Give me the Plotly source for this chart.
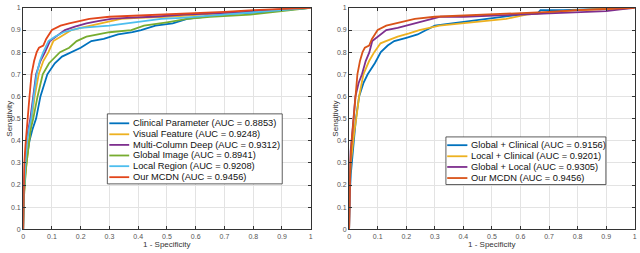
import plotly.graph_objects as go

# ---------------- data ----------------
tick_vals = [0, 0.1, 0.2, 0.3, 0.4, 0.5, 0.6, 0.7, 0.8, 0.9, 1]
tick_text = ["0", "0.1", "0.2", "0.3", "0.4", "0.5", "0.6", "0.7", "0.8", "0.9", "1"]

# Left panel
clin_x = [0, 0, 0.005, 0.012, 0.022, 0.032, 0.045, 0.06, 0.084, 0.11, 0.135, 0.168, 0.2, 0.237, 0.28, 0.33, 0.38, 0.41, 0.46, 0.52, 0.57, 0.63, 0.68, 0.75, 0.82, 0.9, 0.95, 1]
clin_y = [0, 0.1, 0.22, 0.32, 0.4, 0.45, 0.5, 0.6, 0.7, 0.75, 0.78, 0.8, 0.82, 0.85, 0.86, 0.88, 0.89, 0.9, 0.92, 0.93, 0.95, 0.96, 0.97, 0.975, 0.98, 0.99, 0.995, 1]

vis_x = [0, 0.002, 0.008, 0.015, 0.022, 0.03, 0.04, 0.054, 0.07, 0.088, 0.105, 0.13, 0.168, 0.2, 0.25, 0.3, 0.34, 0.4, 0.5, 0.62, 0.7, 0.8, 0.9, 1]
vis_y = [0, 0.15, 0.25, 0.35, 0.42, 0.5, 0.6, 0.7, 0.76, 0.8, 0.85, 0.87, 0.9, 0.91, 0.925, 0.94, 0.95, 0.955, 0.96, 0.97, 0.975, 0.985, 0.993, 1]

mcol_x = [0, 0.002, 0.006, 0.012, 0.018, 0.025, 0.035, 0.045, 0.06, 0.076, 0.093, 0.115, 0.145, 0.18, 0.22, 0.26, 0.306, 0.36, 0.45, 0.56, 0.65, 0.75, 0.85, 0.95, 1]
mcol_y = [0, 0.2, 0.3, 0.4, 0.45, 0.5, 0.6, 0.7, 0.76, 0.8, 0.85, 0.87, 0.9, 0.915, 0.93, 0.94, 0.95, 0.955, 0.96, 0.97, 0.975, 0.98, 0.99, 0.997, 1]

glob_x = [0, 0.003, 0.01, 0.018, 0.026, 0.035, 0.05, 0.068, 0.09, 0.128, 0.16, 0.186, 0.22, 0.26, 0.3, 0.376, 0.42, 0.5, 0.57, 0.65, 0.72, 0.79, 0.86, 0.93, 1]
glob_y = [0, 0.15, 0.28, 0.38, 0.45, 0.5, 0.6, 0.7, 0.75, 0.8, 0.82, 0.85, 0.87, 0.88, 0.89, 0.9, 0.92, 0.935, 0.95, 0.96, 0.965, 0.97, 0.98, 0.99, 1]

loc_x = [0, 0.002, 0.008, 0.014, 0.02, 0.028, 0.037, 0.047, 0.058, 0.07, 0.088, 0.11, 0.14, 0.175, 0.2, 0.3, 0.4, 0.48, 0.55, 0.65, 0.72, 0.8, 0.9, 1]
loc_y = [0, 0.15, 0.3, 0.4, 0.45, 0.5, 0.6, 0.7, 0.76, 0.8, 0.85, 0.87, 0.89, 0.9, 0.91, 0.92, 0.935, 0.95, 0.955, 0.965, 0.97, 0.98, 0.99, 1]

mcdn_x = [0, 0.001, 0.004, 0.008, 0.012, 0.016, 0.022, 0.029, 0.038, 0.047, 0.055, 0.07, 0.08, 0.1, 0.13, 0.16, 0.2, 0.23, 0.3, 0.4, 0.47, 0.55, 0.7, 0.8, 0.9, 1]
mcdn_y = [0, 0.2, 0.3, 0.38, 0.45, 0.5, 0.6, 0.7, 0.76, 0.8, 0.82, 0.83, 0.86, 0.9, 0.92, 0.93, 0.94, 0.95, 0.96, 0.965, 0.97, 0.975, 0.982, 0.99, 0.995, 1]

# Right panel
gc_x = [0, 0.002, 0.006, 0.012, 0.018, 0.024, 0.035, 0.05, 0.065, 0.09, 0.111, 0.135, 0.158, 0.2, 0.24, 0.27, 0.3, 0.36, 0.42, 0.5, 0.55, 0.6, 0.66, 0.67, 0.75, 0.85, 0.92, 1]
gc_y = [0, 0.15, 0.25, 0.35, 0.42, 0.5, 0.6, 0.66, 0.7, 0.75, 0.8, 0.83, 0.85, 0.865, 0.88, 0.9, 0.92, 0.93, 0.94, 0.95, 0.96, 0.97, 0.975, 0.99, 0.99, 0.995, 0.998, 1]

lc_x = [0, 0.002, 0.006, 0.012, 0.018, 0.025, 0.035, 0.05, 0.07, 0.088, 0.11, 0.129, 0.17, 0.21, 0.246, 0.316, 0.4, 0.48, 0.55, 0.62, 0.7, 0.8, 0.9, 1]
lc_y = [0, 0.2, 0.3, 0.38, 0.44, 0.5, 0.6, 0.7, 0.76, 0.8, 0.84, 0.85, 0.87, 0.885, 0.9, 0.92, 0.93, 0.94, 0.95, 0.97, 0.98, 0.99, 0.995, 1]

gl_x = [0, 0.002, 0.005, 0.01, 0.015, 0.022, 0.033, 0.045, 0.058, 0.071, 0.081, 0.1, 0.13, 0.17, 0.2, 0.25, 0.29, 0.32, 0.4, 0.55, 0.6, 0.7, 0.8, 0.9, 0.95, 1]
gl_y = [0, 0.25, 0.35, 0.42, 0.5, 0.6, 0.66, 0.7, 0.76, 0.8, 0.85, 0.87, 0.9, 0.91, 0.92, 0.935, 0.95, 0.96, 0.96, 0.965, 0.97, 0.975, 0.98, 0.985, 0.993, 1]

left_names = ["Clinical Parameter (AUC = 0.8853)", "Visual Feature (AUC = 0.9248)",
              "Multi-Column Deep (AUC = 0.9312)", "Global Image (AUC = 0.8941)",
              "Local Region (AUC = 0.9208)", "Our MCDN (AUC = 0.9456)"]
right_names = ["Global + Clinical (AUC = 0.9156)", "Local + Clinical (AUC = 0.9201)",
               "Global + Local (AUC = 0.9305)", "Our MCDN (AUC = 0.9456)"]

# ---------------- styling ----------------
BLUE, ORANGE, YELLOW, PURPLE, GREEN, CYAN = "#0072BD", "#D95319", "#EDB120", "#7E2F8E", "#77AC30", "#4DBEEE"
RED_L = "#E2461B"
FONT = "Liberation Sans"
W, H = 640, 253

left_series = [(clin_x, clin_y, BLUE), (vis_x, vis_y, YELLOW), (mcol_x, mcol_y, PURPLE),
               (glob_x, glob_y, GREEN), (loc_x, loc_y, CYAN), (mcdn_x, mcdn_y, RED_L)]
right_series = [(gc_x, gc_y, BLUE), (lc_x, lc_y, YELLOW), (gl_x, gl_y, PURPLE),
                (mcdn_x, mcdn_y, ORANGE)]

fig = go.Figure()
for (xs, ys, c), nm in zip(left_series, left_names):
    fig.add_trace(go.Scatter(x=xs, y=ys, mode="lines", name=nm, line=dict(color=c, width=1.8),
                             xaxis="x", yaxis="y", showlegend=False))
for (xs, ys, c), nm in zip(right_series, right_names):
    fig.add_trace(go.Scatter(x=xs, y=ys, mode="lines", name=nm, line=dict(color=c, width=1.8),
                             xaxis="x2", yaxis="y2", showlegend=False))


def px(x):
    return x / W


def py(y):
    return 1 - y / H


y_dom = [py(231.7), py(4)]
axis_common = dict(range=[0, 1], tickvals=tick_vals, ticktext=tick_text, showgrid=True,
                   gridcolor="#e3e3e3", gridwidth=1, zeroline=False, showline=True,
                   linecolor="#333333", linewidth=1, mirror="ticks", ticks="inside",
                   ticklen=3, tickcolor="#333333", tickfont=dict(family=FONT, size=7, color="#555555"))

fig.update_layout(
    width=W, height=H, autosize=False,
    margin=dict(l=0, r=0, t=0, b=0),
    paper_bgcolor="white", plot_bgcolor="white",
    xaxis=dict(domain=[px(21.3), px(310.7)], anchor="y", **axis_common),
    yaxis=dict(domain=y_dom, anchor="x", **axis_common),
    xaxis2=dict(domain=[px(349.3), px(636.7)], anchor="y2", **axis_common),
    yaxis2=dict(domain=y_dom, anchor="x2", **axis_common),
)

annotations = []
shapes = []

# axis titles
for cx in (166, 493):
    annotations.append(dict(x=px(cx), y=py(247.5), xref="paper", yref="paper", text="1 - Specificity",
                            showarrow=False, xanchor="center", yanchor="middle",
                            font=dict(family=FONT, size=8, color="#333333")))
for cx in (8, 336):
    annotations.append(dict(x=px(cx), y=py(118), xref="paper", yref="paper", text="Sensitivity",
                            showarrow=False, textangle=-90, xanchor="center", yanchor="middle",
                            font=dict(family=FONT, size=8, color="#333333")))


def legend(box, rows, line_x0, line_x1, text_x, series, names):
    x0, y0, x1, y1 = box
    shapes.append(dict(type="rect", xref="paper", yref="paper", x0=px(x0), x1=px(x1),
                       y0=py(y1), y1=py(y0), fillcolor="white",
                       line=dict(color="#333333", width=0.8), layer="above"))
    for ry, (_, _, c), nm in zip(rows, series, names):
        shapes.append(dict(type="line", xref="paper", yref="paper", x0=px(line_x0), x1=px(line_x1),
                           y0=py(ry), y1=py(ry), line=dict(color=c, width=1.8), layer="above"))
        annotations.append(dict(x=px(text_x), y=py(ry), xref="paper", yref="paper", text=nm,
                                showarrow=False, xanchor="left", yanchor="middle",
                                font=dict(family=FONT, size=9.3, color="#111111")))


legend((106, 113, 282, 185), [122.7, 134, 144.9, 155.8, 166.8, 178.1], 108, 128, 130,
       left_series, left_names)
legend((446.7, 136.7, 607.7, 185.7), [145.2, 156.6, 167.6, 179.0], 448, 468.3, 470.2,
       right_series, right_names)

fig.update_layout(annotations=annotations, shapes=shapes)
fig.write_html("out.html", config={"displayModeBar": False},
               post_script="document.body.style.margin='0';document.body.style.overflow='hidden';")
